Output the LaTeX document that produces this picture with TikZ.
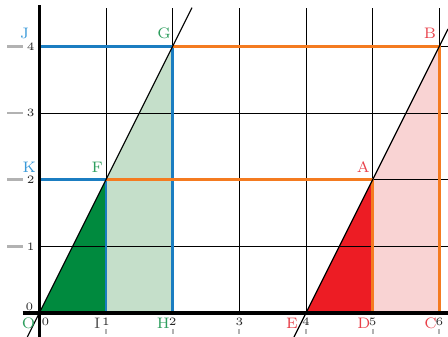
\documentclass[tikz,border=0pt]{standalone}
\usepackage{xcolor}
\usetikzlibrary{positioning}
\definecolor{lineblue}{HTML}{1B7DC1}
\definecolor{lineorange}{HTML}{F47B20}
\definecolor{darkgreen}{HTML}{008A3E}
\definecolor{palegreen}{HTML}{C5DFCA}
\definecolor{brightred}{HTML}{ED1C24}
\definecolor{palepink}{HTML}{F9D3D3}
\definecolor{txtgreen}{HTML}{2E9E5E}
\definecolor{txtred}{HTML}{E8414A}
\definecolor{txtblue}{HTML}{3A9AD9}

\begin{document}
\begin{tikzpicture}[
    font=\fontsize{6.5}{7}\selectfont,
    grid/.style={black, line width=0.35pt},
    axis/.style={black, line width=1.3pt},
    slope/.style={black, line width=0.5pt},
    bluebar/.style={draw=lineblue, line width=1.2pt},
    orangebar/.style={draw=lineorange, line width=1.2pt},
    num/.style={font=\fontsize{4.8}{5}\selectfont, inner sep=0pt, text=black!85},
    lbl/.style={inner sep=0pt},
    tickmark/.style={draw=gray!60, line width=0.8pt},
    ydash/.style={draw=gray!60, line width=1.2pt}
]
\useasboundingbox (-0.59,-0.36) rectangle (6.13,4.695);

% 1. Points
\coordinate (O) at (0,0);
\coordinate (I) at (1,0);
\coordinate (H) at (2,0);
\coordinate (E) at (4,0);
\coordinate (D) at (5,0);
\coordinate (C) at (6,0);
\coordinate (F) at (1,2);
\coordinate (G) at (2,4);
\coordinate (A) at (5,2);
\coordinate (B) at (6,4);
\coordinate (K) at (0,2);
\coordinate (J) at (0,4);

% 2. Shaded regions
\fill[palegreen] (I) -- (H) -- (G) -- (F) -- cycle;
\fill[darkgreen] (O) -- (I) -- (F) -- cycle;
\fill[palepink] (D) -- (C) -- (B) -- (A) -- cycle;
\fill[brightred] (E) -- (D) -- (A) -- cycle;

% 3. Grid
\foreach \x in {1,...,6}
    \draw[grid] (\x,0) -- (\x,4.58);
\foreach \y in {1,...,4}
    \draw[grid] (0,\y) -- (6.13,\y);

% 4. Coloured segments
\draw[bluebar] (J) -- (G) -- (H);
\draw[bluebar] (K) -- (F) -- (I);
\draw[orangebar] (G) -- (B) -- (C);
\draw[orangebar] (F) -- (A) -- (D);

% 5. Sloped lines
\draw[slope] (-0.18,-0.36) -- (O) -- (F) -- (G) -- (2.29,4.58);
\draw[slope] (3.82,-0.36) -- (E) -- (A) -- (B) -- (6.13,4.26);

% 6. Axes
\draw[axis] (-0.25,0) -- (6.13,0);
\draw[axis] (0,-0.36) -- (0,4.62);

% 7. Ticks and numbers
\foreach \y in {1,...,4} {
    \draw[ydash] (-0.48,\y) -- (-0.25,\y);
    \node[num] (ny\y) at (-0.13,\y) {\y};
}
\node[num] (ny0) at (-0.15,0.09) {0};
\node[num] (nx0) at (0.09,-0.13) {0};
\foreach \x in {1,...,6} {
    \node[num] (nx\x) at (\x,-0.13) {\x};
    \draw[tickmark] (\x,-0.24) -- (\x,-0.31);
}

% 8. Point labels
\node[lbl, text=txtblue] (labJ) at (-0.22,4.19) {J};
\node[lbl, text=txtblue] (labK) at (-0.15,2.19) {K};
\node[lbl, text=txtgreen] (labF) at (0.87,2.19) {F};
\node[lbl, text=txtgreen] (labG) at (1.87,4.19) {G};
\node[lbl, text=txtred] (labA) at (4.86,2.19) {A};
\node[lbl, text=txtred] (labB) at (5.86,4.19) {B};
\node[lbl, text=txtgreen] (labO) at (-0.16,-0.15) {O};
\node[lbl, text=black!70] (labI) at (0.87,-0.15) {I};
\node[lbl, text=txtgreen] (labH) at (1.86,-0.15) {H};
\node[lbl, text=txtred] (labE) at (3.79,-0.15) {E};
\node[lbl, text=txtred] (labD) at (4.87,-0.15) {D};
\node[lbl, text=txtred] (labC) at (5.87,-0.15) {C};

\end{tikzpicture}
\end{document}
